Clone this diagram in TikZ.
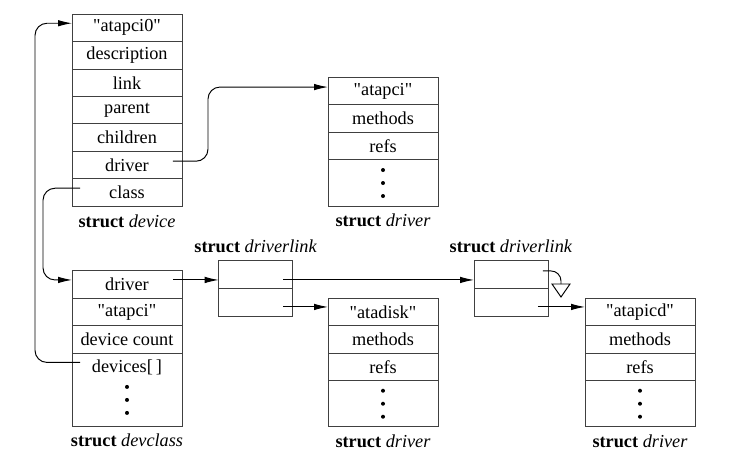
\documentclass[tikz,border=0pt]{standalone}
\usepackage{fontspec}
\setmainfont{Liberation Serif}
\usetikzlibrary{positioning,arrows.meta}

\tikzset{
  field/.style={draw=black!75, minimum width=2.2cm, minimum height=0.55cm, inner sep=0pt, outer sep=0pt},
  dotcell/.style={field, minimum height=0.93cm},
  linkcell/.style={field, minimum width=1.48cm, minimum height=0.56cm},
  caption/.style={inner sep=0pt},
  ptr/.style={-{Latex[length=2.8mm,width=1.3mm]}, rounded corners=2.4mm},
}

\newcommand{\qt}[1]{\textquotedbl#1\textquotedbl}
\newcommand{\dotcol}[1]{%
  \foreach \d in {-2.6mm,0mm,2.6mm}
    \fill ([yshift=\d]#1) circle [radius=0.4mm];}

\begin{document}
\begin{tikzpicture}[x=0.02cm, y=-0.02cm, line width=0.55pt,
    font=\fontsize{10.4}{12.5}\selectfont]

    \useasboundingbox (0,0) rectangle (755,470);

    % struct device
    \node [field] (dv1) at (127,27.75) {\qt{atapci0}};
    \node [field, below=0pt of dv1] (dv2) {description};
    \node [field, below=0pt of dv2] (dv3) {link};
    \node [field, below=0pt of dv3] (dv4) {parent};
    \node [field, below=0pt of dv4] (dv5) {children};
    \node [field, below=0pt of dv5] (dv6) {driver};
    \node [field, below=0pt of dv6] (dv7) {class};
    \node [caption, below=0.16cm of dv7] {\textbf{struct} \textit{device}};

    % struct driver (top)
    \node [field] (dr1) at (383,91.05) {\qt{atapci}};
    \node [field, below=0pt of dr1] (dr2) {methods};
    \node [field, below=0pt of dr2] (dr3) {refs};
    \node [dotcell, below=0pt of dr3] (dr4) {};
    \dotcol{dr4.center}
    \node [caption, below=0.15cm of dr4] {\textbf{struct} \textit{driver}};

    % struct devclass
    \node [field] (dc1) at (127,284.45) {driver};
    \node [field, below=0pt of dc1] (dc2) {\qt{atapci}};
    \node [field, below=0pt of dc2] (dc3) {device count};
    \node [field, minimum height=1.47cm, below=0pt of dc3] (dc4) {};
    \node [field, draw=none, below=0pt of dc3] (dc4t) {devices[\,]};
    \coordinate (dc4d) at ([yshift=-2mm]dc4.center);
    \dotcol{dc4d}
    \node [caption, below=0.14cm of dc4] {\textbf{struct} \textit{devclass}};

    % struct driverlink (two of them)
    \node [linkcell] (ln1a) at (255.7,274.95) {};
    \node [linkcell, below=0pt of ln1a] (ln1b) {};
    \node [caption, above=0.16cm of ln1a] {\textbf{struct} \textit{driverlink}};

    \node [linkcell] (ln2a) at (511,274.95) {};
    \node [linkcell, below=0pt of ln2a] (ln2b) {};
    \node [caption, above=0.16cm of ln2a] {\textbf{struct} \textit{driverlink}};

    % struct driver "atadisk"
    \node [field] (ad1) at (383,311.75) {\qt{atadisk}};
    \node [field, below=0pt of ad1] (ad2) {methods};
    \node [field, below=0pt of ad2] (ad3) {refs};
    \node [dotcell, below=0pt of ad3] (ad4) {};
    \dotcol{ad4.center}
    \node [caption, below=0.14cm of ad4] {\textbf{struct} \textit{driver}};

    % struct driver "atapicd"
    \node [field] (ap1) at (640,311.75) {\qt{atapicd}};
    \node [field, below=0pt of ap1] (ap2) {methods};
    \node [field, below=0pt of ap2] (ap3) {refs};
    \node [dotcell, below=0pt of ap3] (ap4) {};
    \dotcol{ap4.center}
    \node [caption, below=0.14cm of ap4] {\textbf{struct} \textit{driver}};

    % pointers
    \draw [ptr] ([xshift=1.6mm,yshift=0.9mm]dc4t.west) -- ++(-45,0) |- ([yshift=0.9mm]dv1.west);
    \draw [ptr] ([xshift=1.6mm,yshift=0.9mm]dv7.west) -- ++(-37,0) |- ([yshift=0.9mm]dc1.west);
    \draw [ptr] ([xshift=-1.8mm,yshift=0.8mm]dv6.east) -- ++(35,0) |- ([yshift=0.8mm]dr1.west);

    \coordinate (dcdrv) at ([xshift=-1.8mm,yshift=0.9mm]dc1.east);
    \coordinate (l1a) at ([xshift=-1.9mm,yshift=-1mm]ln1a.east);
    \coordinate (l1b) at ([xshift=-1.9mm,yshift=-0.8mm]ln1b.east);
    \coordinate (l2a) at ([xshift=-1mm,yshift=0.8mm]ln2a.east);
    \coordinate (l2b) at ([xshift=-2mm,yshift=-0.8mm]ln2b.east);
    \coordinate (nul) at (561,284);

    \draw [ptr] (dcdrv) -- (dcdrv -| ln1a.west);
    \draw [ptr] (l1a) -- (l1a -| ln2a.west);
    \draw [ptr] (l1b) -- (l1b -| ad1.west);
    \draw [ptr] (l2b) -- (l2b -| ap1.west);

    % null pointer
    \draw [rounded corners=2mm] (l2a) -| (nul);
    \draw (nul) ++(-9,0) -- ++(18,0) -- ++(-9,13) -- cycle;

\end{tikzpicture}
\end{document}
